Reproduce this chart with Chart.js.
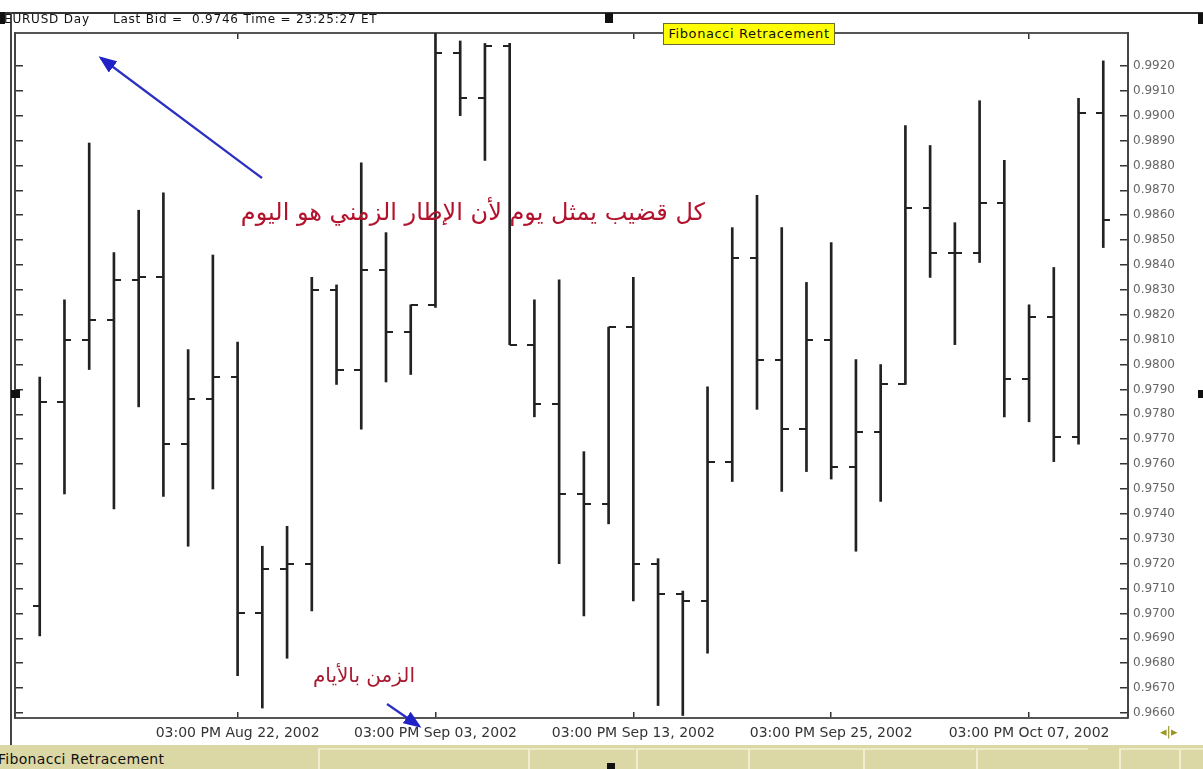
<!DOCTYPE html>
<html>
<head>
<meta charset="utf-8">
<script src="https://cdn.jsdelivr.net/npm/chart.js@4.4.1/dist/chart.umd.min.js"></script>
<style>
  body { margin: 0; background: #fff; width: 1203px; height: 769px; overflow: hidden; position: relative; font-family: 'DejaVu Sans', sans-serif; }
  .abs { position: absolute; }
  #frameTop { left: 0; top: 12px; width: 1203px; height: 2px; background: #333; }
  #frameLeft { left: 10px; top: 12px; width: 2px; height: 735px; background: #444; }
  #header { left: 4px; top: 13px; font-size: 12px; letter-spacing: 0.8px; color: #111; white-space: pre; line-height: 12px; }
  #fibo { left: 663px; top: 23px; width: 170px; height: 20px; background: #ffff00; border: 1.5px solid #6b6b30; font-size: 13px; letter-spacing: 0.6px; line-height: 20px; text-align: center; color: #111; }
  #noteDay { right: 498px; top: 198px; font-size: 24px; color: #b3122c; white-space: nowrap; }
  #noteTime { right: 788px; top: 663px; font-size: 20px; color: #a81a30; white-space: nowrap; }
  #strip { left: 0; top: 745px; width: 1203px; height: 24px; background: #dcd8a6; }
  .cell { top: 3px; height: 21px; border-left: 2px solid #f1eed0; border-top: 2px solid #eeebc8; }
  #stripLabel { left: -2px; top: 751px; font-size: 14px; letter-spacing: 0.3px; color: #111; white-space: nowrap; }
  #nav { left: 1160px; top: 724px; font-size: 13px; color: #9a9420; white-space: nowrap; }
  .mark { background: #111; }
</style>
</head>
<body>
<canvas id="ohlcChart" class="abs" width="1203" height="769" style="left:0;top:0"></canvas>
<div id="frameTop" class="abs"></div>
<div id="frameLeft" class="abs"></div>
<div class="abs mark" style="left:0;top:12px;width:5px;height:12px"></div>
<div class="abs mark" style="left:605px;top:13px;width:8px;height:10px"></div>
<div class="abs mark" style="left:1198px;top:13px;width:5px;height:11px"></div>
<div class="abs mark" style="left:11px;top:390px;width:9px;height:8px"></div>
<div class="abs mark" style="left:1198px;top:390px;width:5px;height:8px"></div>
<div id="header" class="abs">EURUSD Day     Last Bid =  0.9746 Time = 23:25:27 ET</div>
<div id="fibo" class="abs">Fibonacci Retracement</div>
<div id="noteDay" class="abs" dir="rtl">كل قضيب يمثل يوم لأن الإطار الزمني هو اليوم</div>
<div id="noteTime" class="abs" dir="rtl">الزمن بالأيام</div>
<div id="strip" class="abs">
  <div class="abs cell" style="left:318px;width:208px"></div>
  <div class="abs cell" style="left:528px;width:105px"></div>
  <div class="abs cell" style="left:636px;width:110px"></div>
  <div class="abs cell" style="left:748px;width:113px"></div>
  <div class="abs cell" style="left:863px;width:110px"></div>
  <div class="abs cell" style="left:976px;width:110px"></div>
  <div class="abs cell" style="left:1119px;width:58px"></div>
  <div class="abs cell" style="left:1179px;width:24px"></div>
</div>
<div class="abs mark" style="left:607px;top:763px;width:8px;height:6px"></div>
<div id="stripLabel" class="abs">Fibonacci Retracement</div>
<div id="nav" class="abs">◂|▸</div>
<svg class="abs" width="1203" height="769" style="left:0;top:0;pointer-events:none">
  <defs>
    <marker id="head" markerUnits="userSpaceOnUse" markerWidth="18" markerHeight="14" refX="15" refY="7" orient="auto">
      <path d="M0,0 L18,7 L0,14 z" fill="#1f22c4"/>
    </marker>
  </defs>
  <line x1="262" y1="178" x2="101" y2="58" stroke="#2b2fc2" stroke-width="2.2" marker-end="url(#head)"/>
  <line x1="387" y1="704" x2="419" y2="726" stroke="#2b2fc2" stroke-width="2.2" marker-end="url(#head)"/>
</svg>
<script>
// EURUSD daily bars, Aug 12 - Oct 10, 2002
const dates = ['Aug 12, 2002', 'Aug 13, 2002', 'Aug 14, 2002', 'Aug 15, 2002', 'Aug 16, 2002',
  'Aug 19, 2002', 'Aug 20, 2002', 'Aug 21, 2002', 'Aug 22, 2002', 'Aug 23, 2002',
  'Aug 26, 2002', 'Aug 27, 2002', 'Aug 28, 2002', 'Aug 29, 2002', 'Aug 30, 2002',
  'Sep 02, 2002', 'Sep 03, 2002', 'Sep 04, 2002', 'Sep 05, 2002', 'Sep 06, 2002',
  'Sep 09, 2002', 'Sep 10, 2002', 'Sep 11, 2002', 'Sep 12, 2002', 'Sep 13, 2002',
  'Sep 16, 2002', 'Sep 17, 2002', 'Sep 18, 2002', 'Sep 19, 2002', 'Sep 20, 2002',
  'Sep 23, 2002', 'Sep 24, 2002', 'Sep 25, 2002', 'Sep 26, 2002', 'Sep 27, 2002',
  'Sep 30, 2002', 'Oct 01, 2002', 'Oct 02, 2002', 'Oct 03, 2002', 'Oct 04, 2002',
  'Oct 07, 2002', 'Oct 08, 2002', 'Oct 09, 2002', 'Oct 10, 2002'];

const opens = [0.9703, 0.9785, 0.9810, 0.9818, 0.9834, 0.9835, 0.9768, 0.9786, 0.9795, 0.9700,
  0.9718, 0.9720, 0.9830, 0.9798, 0.9838, 0.9813, 0.9824, 0.9925, 0.9907, 0.9928,
  0.9808, 0.9784, 0.9748, 0.9744, 0.9815, 0.9720, 0.9708, 0.9705, 0.9761, 0.9843,
  0.9802, 0.9774, 0.9810, 0.9759, 0.9773, 0.9792, 0.9863, 0.9845, 0.9845, 0.9865,
  0.9794, 0.9819, 0.9771, 0.9901];
const highs = [0.9795, 0.9826, 0.9889, 0.9845, 0.9862, 0.9869, 0.9806, 0.9844, 0.9809, 0.9727,
  0.9735, 0.9835, 0.9832, 0.9881, 0.9853, 0.9824, 0.9940, 0.9930, 0.9929, 0.9929,
  0.9826, 0.9834, 0.9765, 0.9815, 0.9835, 0.9722, 0.9709, 0.9791, 0.9855, 0.9868,
  0.9855, 0.9833, 0.9849, 0.9802, 0.9800, 0.9896, 0.9888, 0.9857, 0.9906, 0.9882,
  0.9824, 0.9839, 0.9907, 0.9922];
const lows = [0.9691, 0.9748, 0.9798, 0.9742, 0.9783, 0.9747, 0.9727, 0.9750, 0.9675, 0.9662,
  0.9682, 0.9701, 0.9792, 0.9774, 0.9793, 0.9796, 0.9823, 0.9900, 0.9882, 0.9808,
  0.9779, 0.9720, 0.9699, 0.9736, 0.9705, 0.9663, 0.9659, 0.9684, 0.9753, 0.9782,
  0.9749, 0.9757, 0.9754, 0.9725, 0.9745, 0.9792, 0.9835, 0.9808, 0.9841, 0.9779,
  0.9777, 0.9761, 0.9768, 0.9847];
const closes = [0.9785, 0.9810, 0.9818, 0.9834, 0.9835, 0.9768, 0.9786, 0.9795, 0.9700, 0.9718,
  0.9720, 0.9830, 0.9798, 0.9838, 0.9813, 0.9824, 0.9925, 0.9907, 0.9928, 0.9808,
  0.9784, 0.9748, 0.9744, 0.9815, 0.9720, 0.9708, 0.9705, 0.9761, 0.9843, 0.9802,
  0.9774, 0.9810, 0.9759, 0.9773, 0.9792, 0.9863, 0.9845, 0.9845, 0.9865, 0.9794,
  0.9819, 0.9771, 0.9901, 0.9858];

const yTicks = [0.9660, 0.9670, 0.9680, 0.9690, 0.9700, 0.9710, 0.9720, 0.9730, 0.9740,
  0.9750, 0.9760, 0.9770, 0.9780, 0.9790, 0.9800, 0.9810, 0.9820, 0.9830, 0.9840,
  0.9850, 0.9860, 0.9870, 0.9880, 0.9890, 0.9900, 0.9910, 0.9920];
const xTickIdx = [8, 16, 24, 32, 40];
const topTickIdx = [8, 24, 40];

// little tick images for open (left) and close (right)
function tickImage(side) {
  const c = document.createElement('canvas');
  c.width = 14;
  c.height = 2;
  const g = c.getContext('2d');
  g.fillStyle = '#222';
  g.fillRect(side === 'left' ? 0 : 7, 0, 7, 2);
  return c;
}

Chart.defaults.font.family = "'DejaVu Sans', sans-serif";

const yMin = 0.9658, yMax = 0.99332;
const setTicks = (list) => (scale) => { scale.ticks = list.map(v => ({ value: v })); };

const ctx = document.getElementById('ohlcChart').getContext('2d');
ctx.letterSpacing = '0.8px'; // the old screenshot text is wide
const ohlcChart = new Chart(ctx, {
  data: {
    datasets: [{
      type: 'bar',
      label: 'range',
      data: dates.map((d, i) => ({ x: i, y: [lows[i], highs[i]] })),
      backgroundColor: '#222',
      borderWidth: 0,
      barThickness: 2,
      grouped: false
    }, {
      type: 'line',
      label: 'open',
      data: dates.map((d, i) => ({ x: i, y: opens[i] })),
      showLine: false,
      pointStyle: tickImage('left'),
      pointRadius: 3
    }, {
      type: 'line',
      label: 'close',
      data: dates.map((d, i) => ({ x: i, y: closes[i] })),
      showLine: false,
      pointStyle: tickImage('right'),
      pointRadius: 3
    }]
  },
  options: {
    responsive: false,
    animation: false,
    events: [],
    layout: { padding: { left: 15, top: 33, right: 0, bottom: 0 } },
    plugins: { legend: { display: false }, tooltip: { enabled: false } },
    scales: {
      x: {
        type: 'linear',
        position: 'bottom',
        min: -1,
        max: 44,
        offset: false,
        afterBuildTicks: setTicks(xTickIdx),
        afterFit: (s) => { s.height = 51; },
        border: { display: true, color: '#555', width: 2 },
        grid: { offset: false, drawOnChartArea: false, tickLength: -6, color: '#333', lineWidth: 1.5 },
        ticks: {
          padding: 13,
          maxRotation: 0,
          autoSkip: false,
          color: '#333',
          font: { size: 14 },
          callback: (v) => '03:00 PM ' + dates[v]
        }
      },
      xTop: {
        type: 'linear',
        position: 'top',
        min: -1,
        max: 44,
        afterBuildTicks: setTicks(topTickIdx),
        afterFit: (s) => { s.height = 0; },
        border: { display: true, color: '#555', width: 2 },
        grid: { drawOnChartArea: false, tickLength: -6, color: '#333', lineWidth: 1.5 },
        ticks: { display: false }
      },
      y: {
        type: 'linear',
        position: 'right',
        min: yMin,
        max: yMax,
        afterBuildTicks: setTicks(yTicks),
        afterFit: (s) => { s.width = 75; },
        border: { display: true, color: '#444', width: 2 },
        grid: { drawOnChartArea: false, tickLength: -8, color: '#333', lineWidth: 1.5 },
        ticks: {
          padding: 13,
          color: '#666',
          font: { size: 12 },
          callback: (v) => v.toFixed(4)
        }
      },
      yLeft: {
        type: 'linear',
        position: 'left',
        min: yMin,
        max: yMax,
        afterBuildTicks: setTicks(yTicks),
        afterFit: (s) => { s.width = 0; },
        border: { display: true, color: '#444', width: 2 },
        grid: { drawOnChartArea: false, tickLength: -8, color: '#333', lineWidth: 1.5 },
        ticks: { display: false }
      }
    }
  }
});
</script>
</body>
</html>
